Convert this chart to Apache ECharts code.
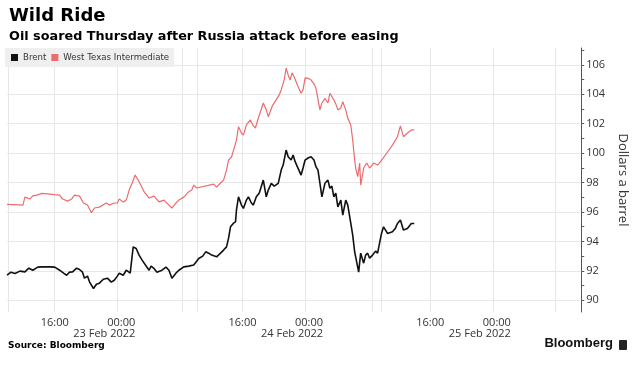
<!DOCTYPE html>
<html>
<head>
<meta charset="utf-8">
<script src="https://cdn.jsdelivr.net/npm/echarts@6/dist/echarts.min.js"></script>
<style>
  html, body { margin: 0; padding: 0; background: #fff; }
  #chart { width: 637px; height: 365px; }
</style>
</head>
<body>
<div id="chart"></div>
<script>
// Hours since 22 Feb 2022 00:00 and price in dollars per barrel
const brentData = [
  [9.90,91.70],[10.41,91.91],[10.92,91.82],[11.55,91.98],[12.19,91.93],[12.69,92.18],[13.20,92.04],[13.84,92.25],
  [14.34,92.27],[15.36,92.27],[16.00,92.25],[16.63,92.04],[17.14,91.84],[17.52,91.70],[17.90,91.91],[18.28,91.93],
  [18.79,92.18],[19.17,92.09],[19.55,91.91],[19.80,91.50],[20.19,91.64],[20.44,91.25],[20.95,90.80],[21.33,91.09],
  [21.71,91.16],[22.22,91.43],[22.73,91.50],[23.23,91.23],[23.61,91.36],[24.00,91.64],[24.25,91.84],[24.76,91.70],
  [25.14,92.04],[25.65,91.84],[26.03,93.63],[26.41,93.52],[26.79,93.07],[27.17,92.73],[27.42,92.61],[28.06,92.04],
  [28.31,92.32],[28.69,92.16],[29.07,91.91],[29.71,92.04],[30.22,92.25],[30.60,92.04],[30.98,91.50],[31.49,91.84],
  [31.87,92.04],[32.50,92.27],[33.14,92.32],[33.77,92.39],[34.41,92.84],[34.92,93.00],[35.30,93.29],[35.68,93.20],
  [36.06,93.07],[36.69,92.95],[37.20,93.20],[37.58,93.41],[37.96,93.63],[38.22,94.22],[38.47,94.99],[38.85,95.24],
  [39.11,95.33],[39.23,96.13],[39.49,97.03],[39.87,96.47],[40.12,96.24],[40.50,96.81],[40.76,97.03],[41.14,96.61],
  [41.39,96.47],[41.77,97.03],[42.15,97.29],[42.66,98.17],[43.04,97.03],[43.30,97.49],[43.68,97.95],[44.06,97.76],
  [44.57,97.95],[44.95,98.85],[45.20,99.19],[45.58,100.21],[45.84,99.76],[46.22,99.53],[46.47,99.87],[46.73,99.42],
  [47.11,98.97],[47.49,98.51],[47.74,98.99],[48.00,99.53],[48.38,99.67],[48.76,99.76],[49.14,99.53],[49.39,99.08],
  [49.65,98.85],[49.90,97.95],[50.15,97.03],[50.54,97.95],[50.92,98.17],[51.17,97.61],[51.42,97.76],[51.68,97.03],
  [51.93,97.29],[52.19,96.35],[52.57,96.81],[52.82,95.79],[53.20,96.81],[53.46,96.47],[53.71,95.67],[54.09,94.43],
  [54.34,93.29],[54.60,92.59],[54.85,91.91],[55.11,93.20],[55.49,92.52],[55.74,93.07],[56.00,93.20],[56.25,92.86],
  [56.63,93.07],[57.01,93.34],[57.27,93.20],[57.77,94.54],[58.03,94.99],[58.54,94.54],[59.17,94.65],[59.55,94.90],
  [59.81,95.22],[60.19,95.45],[60.57,94.77],[61.08,94.88],[61.58,95.22],[61.96,95.22]
];
const wtiData = [
  [9.90,96.52],[11.93,96.47],[12.19,97.01],[12.44,97.00],[12.82,96.88],[13.20,97.10],[13.71,97.15],[14.34,97.27],
  [15.36,97.22],[16.00,97.18],[16.63,97.15],[17.01,96.88],[17.65,96.74],[18.15,96.88],[18.53,97.15],[19.17,97.08],
  [19.42,97.08],[19.68,96.61],[20.19,96.47],[20.69,95.95],[21.07,96.27],[21.71,96.33],[22.60,96.61],[22.98,96.47],
  [23.61,96.61],[24.00,96.61],[24.25,96.88],[24.76,96.67],[25.14,96.81],[25.52,97.49],[25.90,97.97],[26.28,98.51],
  [26.79,98.06],[27.42,97.38],[28.06,96.95],[28.69,97.08],[29.33,96.69],[29.96,96.81],[30.60,96.47],[30.98,96.27],
  [31.49,96.61],[31.87,96.81],[32.50,97.01],[33.14,97.38],[33.52,97.49],[33.77,97.83],[34.15,97.63],[36.31,97.90],
  [36.69,97.69],[37.20,97.97],[37.58,98.17],[37.96,98.85],[38.22,99.53],[38.60,99.74],[38.85,99.87],[39.23,100.89],
  [39.49,101.80],[39.87,101.37],[40.12,101.23],[40.50,101.92],[41.01,102.26],[41.39,101.85],[41.65,101.71],[42.03,102.39],
  [42.66,103.41],[43.04,102.94],[43.30,102.48],[43.81,103.21],[44.31,103.62],[44.69,103.96],[44.95,104.30],[45.33,104.98],
  [45.58,105.78],[45.84,105.32],[46.09,104.98],[46.34,105.46],[46.60,105.20],[47.11,104.52],[47.49,104.07],[47.74,104.30],
  [48.00,105.12],[48.38,105.09],[48.76,104.98],[49.14,104.71],[49.39,104.41],[49.90,102.94],[50.15,103.41],[50.54,103.73],
  [50.92,103.41],[51.17,104.07],[51.42,103.96],[51.68,103.62],[51.93,103.35],[52.19,102.94],[52.57,103.07],[52.82,103.50],
  [53.20,102.94],[53.46,102.37],[53.84,101.92],[54.09,100.89],[54.34,99.53],[54.47,98.99],[54.73,98.40],[54.98,99.33],
  [55.11,97.83],[55.49,98.99],[55.87,99.33],[56.25,98.99],[56.76,99.33],[57.27,99.19],[57.65,99.42],[58.54,100.08],
  [59.17,100.55],[59.81,101.12],[60.19,101.85],[60.57,101.12],[61.08,101.37],[61.58,101.58],[61.96,101.58]
];
const timeTicks = [16, 24, 40, 48, 64, 72];
const timeLabels = ['16:00', '00:00', '16:00', '00:00', '16:00', '00:00'];
const dateLabels = ['', '23 Feb 2022', '', '24 Feb 2022', '', '25 Feb 2022'];
const gridHours = [10, 16, 24, 32.25, 34.25, 40, 48, 56.6, 57.75, 64, 72, 80];
const priceTicks = [90, 92, 94, 96, 98, 100, 102, 104, 106];
const minorPriceTicks = [90, 91, 92, 93, 94, 95, 96, 97, 98, 99, 100, 101, 102, 103, 104, 105, 106, 107];

const chart = echarts.init(document.getElementById('chart'), null, { renderer: 'canvas' });
const gridColor = '#e7e7e7';
const lblFont = { fontFamily: 'Open Sans', fontSize: 11, color: '#333', lineHeight: 11 };

const option = {
  backgroundColor: '#ffffff',
  animation: false,
  title: {
    text: 'Wild Ride',
    subtext: 'Oil soared Thursday after Russia attack before easing',
    left: 4, top: 2, itemGap: 5,
    textStyle: { fontFamily: 'DejaVu Sans', fontWeight: 'bold', fontSize: 18, color: '#000' },
    subtextStyle: { fontFamily: 'DejaVu Sans', fontWeight: 'bold', fontSize: 12.8, color: '#000' }
  },
  legend: {
    data: ['Brent', 'West Texas Intermediate'],
    left: 5, top: 48,
    padding: [5, 5, 5, 6],
    backgroundColor: '#efefef',
    icon: 'rect', itemWidth: 7, itemHeight: 7, itemGap: 5,
    textStyle: { fontFamily: 'DejaVu Sans', fontSize: 8.6, color: '#333' }
  },
  grid: { left: 7, right: 52, top: 48, bottom: 53, containLabel: false },
  xAxis: {
    type: 'value', min: 9.9, max: 83.3,
    axisLine: { show: false }, axisTick: { show: false }, splitLine: { show: false },
    axisLabel: {
      customValues: timeTicks,
      margin: 5,
      fontFamily: 'Open Sans', fontSize: 11, color: '#333', lineHeight: 11,
      formatter: function (v) {
        const i = timeTicks.indexOf(v);
        if (i < 0) return '';
        if (dateLabels[i]) return '{t|' + timeLabels[i] + '}\n{d|' + dateLabels[i] + '}';
        return '{s|' + timeLabels[i] + '}';
      },
      rich: {
        s: Object.assign({}, lblFont),
        t: Object.assign({}, lblFont, { align: 'right', padding: [0, 26, 0, 0] }),
        d: Object.assign({}, lblFont, { align: 'left', padding: [0, 26, 0, 0] })
      }
    }
  },
  yAxis: {
    type: 'value', position: 'right', min: 89.2, max: 107.15,
    axisLine: { show: true, lineStyle: { color: '#555', width: 1 } },
    axisTick: { show: true, inside: false, length: 3, customValues: minorPriceTicks, lineStyle: { color: '#555' } },
    splitLine: { show: false },
    axisLabel: { customValues: priceTicks, margin: 5, fontFamily: 'Open Sans', fontSize: 11, color: '#333' },
    name: 'Dollars a barrel', nameLocation: 'middle', nameRotate: -90, nameGap: 30,
    nameTextStyle: { fontFamily: 'Open Sans', fontSize: 13, color: '#333' }
  },
  series: [
    {
      type: 'line', data: [], silent: true, z: 1,
      markLine: {
        z: 1, silent: true, symbol: ['none', 'none'], label: { show: false },
        lineStyle: { color: gridColor, width: 1, type: 'solid' },
        emphasis: { disabled: true },
        data: gridHours.map(h => ({ xAxis: h })).concat(priceTicks.map(p => ({ yAxis: p })))
      }
    },
    {
      name: 'Brent', type: 'line', data: brentData, showSymbol: false, z: 6,
      lineStyle: { color: '#111', width: 1.6 }, itemStyle: { color: '#111' }
    },
    {
      name: 'West Texas Intermediate', type: 'line', data: wtiData, showSymbol: false, z: 6,
      lineStyle: { color: '#eb6c6f', width: 1.2 }, itemStyle: { color: '#eb6c6f' }
    }
  ],
  graphic: [
    { type: 'text', left: 8, top: 341, style: { text: 'Source: Bloomberg', font: 'bold 9px "DejaVu Sans"', fill: '#000' } },
    { type: 'text', right: 24, top: 337, style: { text: 'Bloomberg', font: 'bold 13px "Liberation Sans"', fill: '#111' } },
    { type: 'rect', right: 10, top: 340, shape: { width: 8, height: 10, r: 1 }, style: { fill: '#222' } }
  ]
};
chart.setOption(option);
</script>
</body>
</html>
